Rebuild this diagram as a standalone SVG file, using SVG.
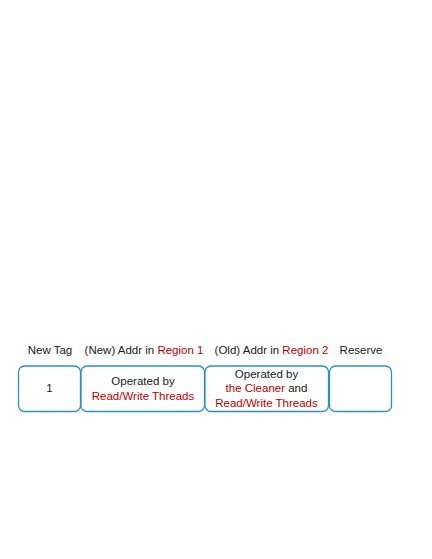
<svg xmlns="http://www.w3.org/2000/svg" width="432" height="559" viewBox="0 0 432 559">
<style>
.box{fill:#fff;stroke:#2E8FC4;stroke-width:1.3}
text{font-family:"Liberation Sans",Arial,sans-serif;font-size:11.5px;fill:#1a1a1a;text-anchor:middle}
.r{fill:#C00000}
</style>
<rect width="432" height="559" fill="#fff"/>
<g id="headers">
<text x="50" y="354">New Tag</text>
<text x="144" y="354">(New) Addr in <tspan class="r">Region 1</tspan></text>
<text x="271.5" y="354">(Old) Addr in <tspan class="r">Region 2</tspan></text>
<text x="361" y="354">Reserve</text>
</g>
<g id="tag">
<rect class="box" x="18.5" y="366" width="62" height="45.5" rx="6"/>
<text x="49.5" y="392">1</text>
</g>
<g id="newaddr">
<rect class="box" x="81" y="366" width="123.5" height="45.5" rx="6"/>
<text x="143" y="385">Operated by</text>
<text x="143" y="399.5" class="r">Read/Write Threads</text>
</g>
<g id="oldaddr">
<rect class="box" x="205" y="366" width="123.5" height="45.5" rx="6"/>
<text x="266.5" y="377.5">Operated by</text>
<text x="266.5" y="392"><tspan class="r">the Cleaner</tspan> and</text>
<text x="266.5" y="407" class="r">Read/Write Threads</text>
</g>
<g id="reserve">
<rect class="box" x="329.5" y="366" width="62" height="45.5" rx="6"/>
</g>
<g id="connectors"></g>
</svg>
